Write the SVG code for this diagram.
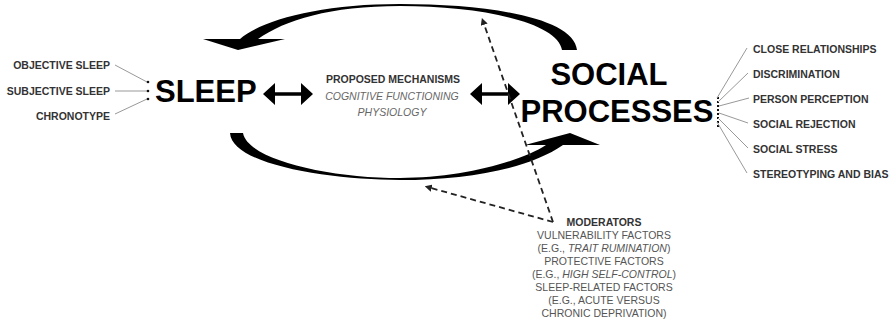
<svg xmlns="http://www.w3.org/2000/svg" width="892" height="324" viewBox="0 0 892 324">
<style>
.lbl{font-family:"Liberation Sans",Arial,sans-serif;font-size:10.5px;font-weight:bold;fill:#333}
.big{font-family:"Liberation Sans",Arial,sans-serif;font-size:31px;font-weight:bold;fill:#000}
.mech{font-family:"Liberation Sans",Arial,sans-serif;font-size:10.5px;fill:#666;font-style:italic}
.mod{font-family:"Liberation Sans",Arial,sans-serif;font-size:10.5px;fill:#555}
.thin{stroke:#999;stroke-width:1;fill:none}
.dash{stroke:#222;stroke-width:1.8;fill:none;stroke-dasharray:6,4}
.dot{fill:#111}
</style>
<defs>
<marker id="ah" viewBox="0 0 10 10" refX="1" refY="5" markerWidth="4" markerHeight="4" orient="auto-start-reverse">
<path d="M0,0 L10,5 L0,10 Z" fill="#222"/>
</marker>
</defs>
<rect width="892" height="324" fill="#fff"/>
<g id="connectors">
<path id="top-arc" d="M577,50 C574,18 490,4 400,4 C320,4 262,20 240,39 L203,39 L238,50 L285,39 L258,39 C285,20 330,6 400,6 C480,6 558,22 562,50 Z" fill="#000"/>
<path id="bottom-arc" d="M230,133 C232,165 330,180 400,180 C470,180 530,168 563,145 L600,145 L570,133 L525,145 L546,145 C520,162 460,178 400,178 C330,178 248,160 243,133 Z" fill="#000"/>
<polygon id="arrow-left" points="263,94 275,83 275,92.3 301,92.3 301,83 313,94 301,105 301,95.7 275,95.7 275,105" fill="#000"/>
<polygon id="arrow-right" points="470,94 482,83 482,92.3 508,92.3 508,83 520,94 508,105 508,95.7 482,95.7 482,105" fill="#000"/>
<line class="dash" x1="553" y1="222" x2="484" y2="24" marker-end="url(#ah)"/>
<line class="dash" x1="553" y1="222" x2="431" y2="188" marker-end="url(#ah)"/>
<line class="thin" x1="115" y1="65" x2="147" y2="82"/>
<line class="thin" x1="115" y1="91" x2="147" y2="91"/>
<line class="thin" x1="115" y1="114" x2="147" y2="99"/>
<circle class="dot" cx="148" cy="82" r="1.3"/>
<circle class="dot" cx="148" cy="91" r="1.3"/>
<circle class="dot" cx="148" cy="99" r="1.3"/>
<line x1="718" y1="97" x2="718" y2="127" stroke="#111" stroke-width="2" stroke-dasharray="2,2"/>
<line class="thin" x1="717" y1="98" x2="747" y2="48"/>
<line class="thin" x1="718" y1="102" x2="748" y2="73"/>
<line class="thin" x1="719" y1="106" x2="749" y2="98"/>
<line class="thin" x1="719" y1="113" x2="748" y2="123"/>
<line class="thin" x1="718" y1="118" x2="748" y2="148"/>
<line class="thin" x1="717" y1="122" x2="747" y2="173"/>
</g>
<g id="sleep-inputs">
<text class="lbl" x="110" y="69" text-anchor="end">OBJECTIVE SLEEP</text>
<text class="lbl" x="110" y="94.5" text-anchor="end">SUBJECTIVE SLEEP</text>
<text class="lbl" x="110" y="119.5" text-anchor="end">CHRONOTYPE</text>
</g>
<g id="sleep">
<text class="big" x="155" y="102">SLEEP</text>
</g>
<g id="mechanisms">
<text class="lbl" x="393" y="83" text-anchor="middle">PROPOSED MECHANISMS</text>
<text class="mech" x="392" y="99.5" text-anchor="middle">COGNITIVE FUNCTIONING</text>
<text class="mech" x="392" y="116" text-anchor="middle">PHYSIOLOGY</text>
</g>
<g id="social-processes">
<text class="big" x="609" y="85" text-anchor="middle">SOCIAL</text>
<text class="big" x="617" y="122" text-anchor="middle">PROCESSES</text>
</g>
<g id="social-outputs">
<text class="lbl" x="753" y="53">CLOSE RELATIONSHIPS</text>
<text class="lbl" x="753" y="78">DISCRIMINATION</text>
<text class="lbl" x="753" y="103">PERSON PERCEPTION</text>
<text class="lbl" x="753" y="128">SOCIAL REJECTION</text>
<text class="lbl" x="753" y="153">SOCIAL STRESS</text>
<text class="lbl" x="753" y="178">STEREOTYPING AND BIAS</text>
</g>
<g id="moderators">
<text class="lbl" x="604" y="226" text-anchor="middle">MODERATORS</text>
<text class="mod" x="604" y="239" text-anchor="middle">VULNERABILITY FACTORS</text>
<text class="mod" x="604" y="252" text-anchor="middle">(E.G., <tspan font-style="italic">TRAIT RUMINATION</tspan>)</text>
<text class="mod" x="604" y="265" text-anchor="middle">PROTECTIVE FACTORS</text>
<text class="mod" x="604" y="278" text-anchor="middle">(E.G., <tspan font-style="italic">HIGH SELF-CONTROL</tspan>)</text>
<text class="mod" x="604" y="291" text-anchor="middle">SLEEP-RELATED FACTORS</text>
<text class="mod" x="604" y="304" text-anchor="middle">(E.G., ACUTE VERSUS</text>
<text class="mod" x="604" y="317" text-anchor="middle">CHRONIC DEPRIVATION)</text>
</g>
</svg>
